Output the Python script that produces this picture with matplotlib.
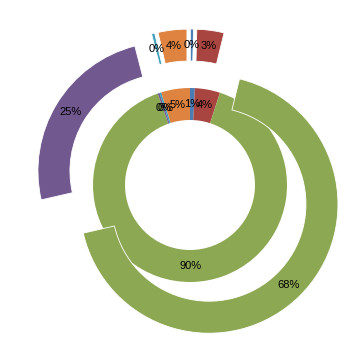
import matplotlib
matplotlib.use("Agg")
import matplotlib.pyplot as plt
import numpy as np

categories = ["A", "B", "C", "D", "E", "F"]
colors = ["#4B7DB5", "#A94541", "#8DA853", "#71588F", "#41A1BA", "#DE8340"]
inner_values = [0.8, 4.2, 89.6, 0.3, 0.3, 4.8]
inner_labels = ["1%", "4%", "90%", "0%", "0%", "5%"]
outer_values = [0.4, 3.4, 67.6, 24.6, 0.4, 3.6]
outer_labels = ["0%", "3%", "68%", "25%", "0%", "4%"]

W, H = 358, 342
cx, cy = 190, 185  # pixel center
R = 129.0

fig = plt.figure(figsize=(W / 100, H / 100), dpi=100)
ax = fig.add_axes([0, 0, 1, 1])

ring_w = 32 / R
inner_r = 97 / R
explode = 27 / R

font = dict(fontsize=8, family=["Liberation Sans", "DejaVu Sans"], color="black")

ax.pie(inner_values, radius=inner_r, colors=colors, startangle=90,
       counterclock=False, wedgeprops=dict(width=ring_w, edgecolor="none"))
ax.pie(outer_values, radius=1.0, colors=colors, startangle=90,
       counterclock=False, explode=[explode] * len(outer_values),
       wedgeprops=dict(width=ring_w, edgecolor="white", linewidth=0.6))

ax.set_xlim(-cx / R, (W - cx) / R)
ax.set_ylim((cy - H) / R, cy / R)
ax.set_aspect("equal")
ax.axis("off")

def place(values, labels, mid, expl):
    tot = sum(values)
    start = 0.0
    for v, lab in zip(values, labels):
        m = (start + v / 2) / tot
        ang = np.deg2rad(90 - 360 * m)
        x = expl * np.cos(ang) + mid * np.cos(ang)
        y = expl * np.sin(ang) + mid * np.sin(ang)
        ax.text(x, y, lab, ha="center", va="center", **font)
        start += v

place(inner_values, inner_labels, inner_r - ring_w / 2, 0)
place(outer_values, outer_labels, 1.0 - ring_w / 2, explode)

fig.savefig("out.png", dpi=100)
